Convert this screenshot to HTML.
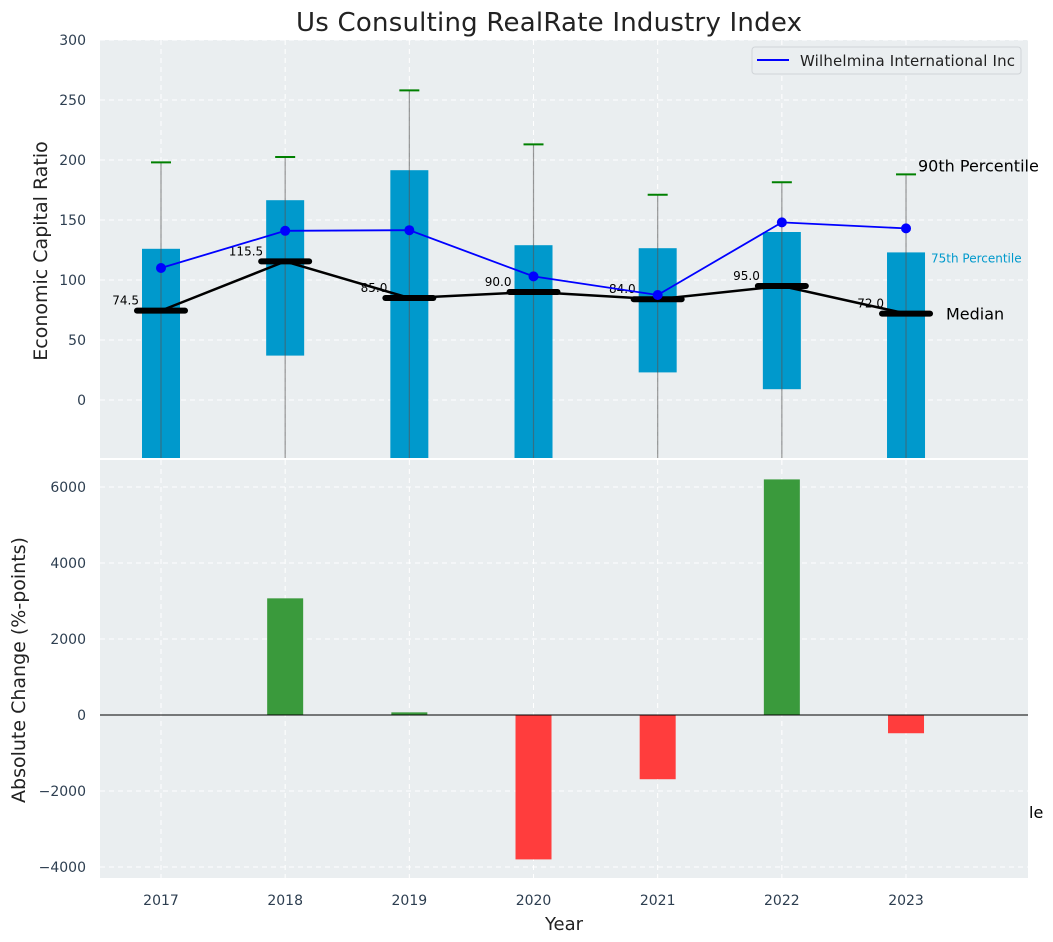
<!DOCTYPE html>
<html><head><meta charset="utf-8"><style>
body{margin:0;background:#fff;}
svg{display:block;font-family:"DejaVu Sans","Liberation Sans",sans-serif;}
</style></head><body>
<svg id="chart" width="1053" height="942" viewBox="0 0 1053 942"></svg>
<script>
const years = [2017, 2018, 2019, 2020, 2021, 2022, 2023];
const p75 = [126, 166.5, 191.5, 129, 126.5, 140, 123];
const p25 = [-60, 37, -60, -60, 23, 9, -60];
const p90 = [198, 202.5, 258, 213, 171, 181.5, 188];
const p10 = [-60, -60, -60, -60, -60, -60, -60];
const medians = [74.5, 115.5, 85, 90, 84, 95, 72];
const company = [110, 141, 141.5, 103, 87.5, 148, 143];
const changes = [0, 3070, 70, -3800, -1690, 6200, -480];
const topTicks = [0, 50, 100, 150, 200, 250, 300];
const botTicks = [-4000, -2000, 0, 2000, 4000, 6000];

const NS = "http://www.w3.org/2000/svg";
const svg = document.getElementById('chart');
function el(tag, attrs, parent) {
  const e = document.createElementNS(NS, tag);
  for (const k in attrs) e.setAttribute(k, attrs[k]);
  (parent || svg).appendChild(e);
  return e;
}
const L = 100, R = 1028;
const x = v => 161 + (v - 2017) * 124.17;
const yT = v => 400 - v * 1.2;
const yB = v => 715 - v * 0.038;
const TT = 40, TB = 458, BT = 460, BB = 878;

let e;
e = el('rect', {x: L, y: TT, width: R - L, height: TB - TT, fill: '#eaeef0'});


e = el('rect', {x: L, y: BT, width: R - L, height: BB - BT, fill: '#eaeef0'});



years.forEach(yr => {
  e = el('line', {x1: x(yr), x2: x(yr), y1: TT, y2: TB, stroke: '#fff', 'stroke-dasharray': '5,4', 'stroke-width': 1});
  
  
  e = el('line', {x1: x(yr), x2: x(yr), y1: BT, y2: BB, stroke: '#fff', 'stroke-dasharray': '5,4', 'stroke-width': 1});
  
  
});
topTicks.forEach(t => {
  e = el('line', {x1: L, x2: R, y1: yT(t), y2: yT(t), stroke: '#fff', 'stroke-dasharray': '5,4', 'stroke-width': 1});
  
  
  e = el('text', {x: 86, y: yT(t) + 5, 'text-anchor': 'end', 'font-size': 14, fill: '#2d3e50'});
  e.textContent = t;
  
  
});
botTicks.forEach(t => {
  e = el('line', {x1: L, x2: R, y1: yB(t), y2: yB(t), stroke: '#fff', 'stroke-dasharray': '5,4', 'stroke-width': 1});
  
  
  e = el('text', {x: 86, y: yB(t) + 5, 'text-anchor': 'end', 'font-size': 14, fill: '#2d3e50'});
  e.textContent = t < 0 ? '\u2212' + Math.abs(t) : t;
  
  
});

const defs = el('defs', {});
const cp = el('clipPath', {id: 'clipTop'}, defs);
el('rect', {x: L, y: TT, width: R - L, height: TB - TT}, cp);
const gTop = el('g', {'clip-path': 'url(#clipTop)'});



years.forEach((yr, i) => {
  const cx = x(yr);
  e = el('rect', {x: cx - 19, y: yT(p75[i]), width: 38, height: yT(p25[i]) - yT(p75[i]), fill: '#0099cc'}, gTop);
  
  
  e = el('line', {x1: cx, x2: cx, y1: yT(p90[i]), y2: yT(p10[i]), stroke: '#555', 'stroke-opacity': 0.6, 'stroke-width': 1.2}, gTop);
  
  
  e = el('line', {x1: cx - 10, x2: cx + 10, y1: yT(p90[i]), y2: yT(p90[i]), stroke: 'green', 'stroke-width': 2}, gTop);
  
  
});
e = el('polyline', {points: years.map((yr, i) => x(yr) + ',' + yT(medians[i])).join(' '), fill: 'none', stroke: '#000', 'stroke-width': 2.5}, gTop);


years.forEach((yr, i) => {
  const cx = x(yr);
  e = el('line', {x1: cx - 24, x2: cx + 24, y1: yT(medians[i]), y2: yT(medians[i]), stroke: '#000', 'stroke-width': 6, 'stroke-linecap': 'round'}, gTop);
  
  
  e = el('text', {x: cx - 22, y: yT(medians[i]) - 6, 'text-anchor': 'end', 'font-size': 12, fill: '#000'}, gTop);
  e.textContent = medians[i].toFixed(1);
  
  
});
e = el('polyline', {points: years.map((yr, i) => x(yr) + ',' + yT(company[i])).join(' '), fill: 'none', stroke: 'blue', 'stroke-width': 1.8}, gTop);


years.forEach((yr, i) => {
  e = el('circle', {cx: x(yr), cy: yT(company[i]), r: 5, fill: 'blue'}, gTop);
  
  
});
const last = years.length - 1;
e = el('text', {x: 918, y: yT(p90[last]) - 3, 'font-size': 16, fill: '#000'});
e.textContent = '90th Percentile';


e = el('text', {x: 931, y: yT(p75[last]) + 10, 'font-size': 12, fill: '#0099cc'});
e.textContent = '75th Percentile';


e = el('text', {x: 946, y: yT(medians[last]) + 6, 'font-size': 16, fill: '#000'});
e.textContent = 'Median';



const lg = el('g', {});


el('rect', {x: 752, y: 47, width: 269, height: 27, rx: 3, fill: '#eaeef0', stroke: '#d0d4d8'}, lg);
el('line', {x1: 757, x2: 789, y1: 60, y2: 60, stroke: 'blue', 'stroke-width': 2}, lg);
e = el('text', {x: 800, y: 66, 'font-size': 15, fill: '#222', textLength: 215}, lg);
e.textContent = 'Wilhelmina International Inc';



changes.forEach((v, i) => {
  const cx = x(years[i]);
  const y0 = yB(0), y1 = yB(v);
  e = el('rect', {x: cx - 18, y: Math.min(y0, y1), width: 36, height: Math.abs(y1 - y0), fill: v >= 0 ? '#3a9a3c' : '#ff3d3d'});
  
  
});
e = el('line', {x1: L, x2: R, y1: yB(0), y2: yB(0), stroke: '#000', 'stroke-width': 1});


e = el('text', {x: 1029, y: 818, 'font-size': 16, fill: '#000'});
e.textContent = 'le';



years.forEach(yr => {
  e = el('text', {x: x(yr), y: 905, 'text-anchor': 'middle', 'font-size': 14, fill: '#2d3e50'});
  e.textContent = yr;
  
  
});

e = el('text', {x: 564, y: 930, 'text-anchor': 'middle', 'font-size': 18, fill: '#222'});
e.textContent = 'Year';


e = el('text', {x: 549, y: 31, 'text-anchor': 'middle', 'font-size': 26, fill: '#222', textLength: 506});
e.textContent = 'Us Consulting RealRate Industry Index';


e = el('text', {x: 0, y: 0, 'text-anchor': 'middle', 'font-size': 19, fill: '#222', transform: 'translate(47,251) rotate(-90)'});
e.textContent = 'Economic Capital Ratio';


e = el('text', {x: 0, y: 0, 'text-anchor': 'middle', 'font-size': 19, fill: '#222', transform: 'translate(25,670) rotate(-90)'});
e.textContent = 'Absolute Change (%-points)';


</script>
</body></html>
